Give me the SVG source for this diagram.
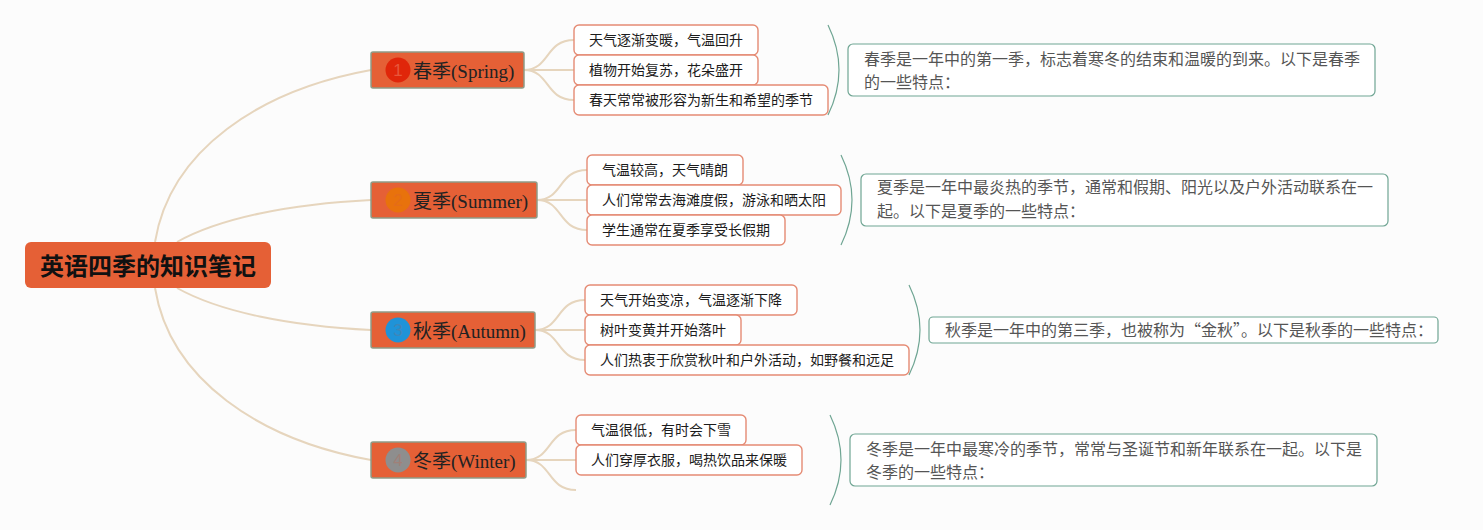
<svg xmlns="http://www.w3.org/2000/svg" width="1483" height="530" viewBox="0 0 1483 530">
<style>
.root{fill:#e56036}
.roott{font:bold 24px "Noto Sans CJK SC","Liberation Sans",sans-serif;fill:#111}
.season{fill:#e56036;stroke:#8f9a86;stroke-width:1.5}
.seasont{font:19px "Liberation Serif","Noto Sans CJK SC",serif;fill:#222}
.num{font:17px "Liberation Sans","Noto Sans CJK SC",sans-serif;text-anchor:middle}
.leaf{fill:#fff;stroke:#e58b74;stroke-width:1.4}
.leaft{font:14px "Noto Sans CJK SC","Liberation Sans",sans-serif;fill:#1c1c1c}
.note{fill:#fff;stroke:#6fa593;stroke-width:1.2}
.notet{font:16px "Noto Sans CJK SC","Liberation Sans",sans-serif;fill:#555}
.main{fill:none;stroke:#e6d5bd;stroke-width:2}
.sub{fill:none;stroke:#e6d5bd;stroke-width:2}
.brace{fill:none;stroke:#6fa593;stroke-width:1.2}
</style>
<rect width="1483" height="530" fill="#fcfcfc"/>
<g id="connectors">
<path class="main" d="M155 242C170 150 260 90 371 70"/>
<path class="main" d="M177 242C220 218 290 204 371 200"/>
<path class="main" d="M177 288C220 312 290 326 371 330"/>
<path class="main" d="M155 288C170 380 260 440 371 460"/>
<path class="sub" d="M524 70C550 70 545 40 574 40"/>
<path class="sub" d="M524 70H574"/>
<path class="sub" d="M524 70C550 70 545 100 574 100"/>
<path class="sub" d="M537 200C563 200 558 170 587 170"/>
<path class="sub" d="M537 200H587"/>
<path class="sub" d="M537 200C563 200 558 230 587 230"/>
<path class="sub" d="M535 330C561 330 556 300 585 300"/>
<path class="sub" d="M535 330H585"/>
<path class="sub" d="M535 330C561 330 556 360 585 360"/>
<path class="sub" d="M526 460C552 460 547 430 576 430"/>
<path class="sub" d="M526 460H576"/>
<path class="sub" d="M526 460C552 460 547 490 576 490"/>
<path class="brace" d="M828 25Q850 70 828 115"/>
<path class="brace" d="M841 155Q863 200 841 245"/>
<path class="brace" d="M909 285Q931 330 909 375"/>
<path class="brace" d="M830 415Q852 460 830 505"/>
</g>
<g id="root"><rect class="root" x="25" y="242" width="246" height="46" rx="6"/><text class="roott" x="40" y="275">英语四季的知识笔记</text></g>
<g id="spring"><rect class="season" x="371" y="52" width="153" height="36" rx="2"/><circle cx="398" cy="70" r="12.5" fill="#e0260a"/><text class="num" x="398" y="76" fill="#e8573a">1</text><text class="seasont" x="413" y="78">春季(Spring)</text></g>
<g id="summer"><rect class="season" x="371" y="182" width="166" height="36" rx="2"/><circle cx="398" cy="200" r="12.5" fill="#e8720c"/><text class="num" x="398" y="206" fill="#e56c18">2</text><text class="seasont" x="413" y="208">夏季(Summer)</text></g>
<g id="autumn"><rect class="season" x="371" y="312" width="164" height="36" rx="2"/><circle cx="398" cy="330" r="12.5" fill="#1f93d8"/><text class="num" x="398" y="336" fill="#3f86b8">3</text><text class="seasont" x="413" y="338">秋季(Autumn)</text></g>
<g id="winter"><rect class="season" x="371" y="442" width="155" height="36" rx="2"/><circle cx="398" cy="460" r="12.5" fill="#8e8e8e"/><text class="num" x="398" y="466" fill="#a08078">4</text><text class="seasont" x="413" y="468">冬季(Winter)</text></g>
<g id="s1"><rect class="leaf" x="574" y="25" width="184" height="30" rx="5"/><text class="leaft" x="589" y="45">天气逐渐变暖，气温回升</text></g>
<g id="s2"><rect class="leaf" x="574" y="55" width="184" height="30" rx="5"/><text class="leaft" x="589" y="75">植物开始复苏，花朵盛开</text></g>
<g id="s3"><rect class="leaf" x="574" y="85" width="254" height="30" rx="5"/><text class="leaft" x="589" y="105">春天常常被形容为新生和希望的季节</text></g>
<g id="u1"><rect class="leaf" x="587" y="155" width="156" height="30" rx="5"/><text class="leaft" x="602" y="175">气温较高，天气晴朗</text></g>
<g id="u2"><rect class="leaf" x="587" y="185" width="254" height="30" rx="5"/><text class="leaft" x="602" y="205">人们常常去海滩度假，游泳和晒太阳</text></g>
<g id="u3"><rect class="leaf" x="587" y="215" width="198" height="30" rx="5"/><text class="leaft" x="602" y="235">学生通常在夏季享受长假期</text></g>
<g id="a1"><rect class="leaf" x="585" y="285" width="212" height="30" rx="5"/><text class="leaft" x="600" y="305">天气开始变凉，气温逐渐下降</text></g>
<g id="a2"><rect class="leaf" x="585" y="315" width="156" height="30" rx="5"/><text class="leaft" x="600" y="335">树叶变黄并开始落叶</text></g>
<g id="a3"><rect class="leaf" x="585" y="345" width="324" height="30" rx="5"/><text class="leaft" x="600" y="365">人们热衷于欣赏秋叶和户外活动，如野餐和远足</text></g>
<g id="w1"><rect class="leaf" x="576" y="415" width="170" height="30" rx="5"/><text class="leaft" x="591" y="435">气温很低，有时会下雪</text></g>
<g id="w2"><rect class="leaf" x="576" y="445" width="226" height="30" rx="5"/><text class="leaft" x="591" y="465">人们穿厚衣服，喝热饮品来保暖</text></g>
<g id="n1"><rect class="note" x="848" y="44" width="527" height="52" rx="5"/><text class="notet" x="864" y="65">春季是一年中的第一季，标志着寒冬的结束和温暖的到来。以下是春季</text><text class="notet" x="864" y="88">的一些特点：</text></g>
<g id="n2"><rect class="note" x="861" y="174" width="527" height="52" rx="5"/><text class="notet" x="877" y="193">夏季是一年中最炎热的季节，通常和假期、阳光以及户外活动联系在一</text><text class="notet" x="877" y="217">起。以下是夏季的一些特点：</text></g>
<g id="n3"><rect class="note" x="929" y="317" width="509" height="26" rx="4"/><text class="notet" x="945" y="336">秋季是一年中的第三季，也被称为“金秋”。以下是秋季的一些特点：</text></g>
<g id="n4"><rect class="note" x="850" y="434" width="527" height="52" rx="5"/><text class="notet" x="866" y="455">冬季是一年中最寒冷的季节，常常与圣诞节和新年联系在一起。以下是</text><text class="notet" x="866" y="478">冬季的一些特点：</text></g>
</svg>
